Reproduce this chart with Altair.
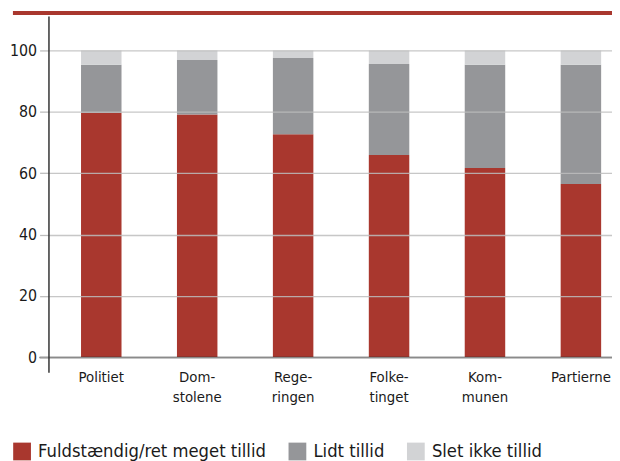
import altair as alt
import pandas as pd

categories = ["Politiet", "Dom-\nstolene", "Rege-\nringen", "Folke-\ntinget", "Kom-\nmunen", "Partierne"]
series = ["Fuldstændig/ret meget tillid", "Lidt tillid", "Slet ikke tillid"]
high = [79.7, 79.1, 72.7, 65.9, 61.7, 56.5]
little = [15.6, 17.8, 24.8, 29.7, 33.6, 38.8]
none_ = [4.7, 3.1, 2.5, 4.4, 4.7, 4.7]
colors = ["#a9372e", "#959699", "#d2d3d5"]
y_ticks = [0, 20, 40, 60, 80, 100]

rows = []
for i, c in enumerate(categories):
    for j, (s, vals) in enumerate(zip(series, [high, little, none_])):
        rows.append({"kat": c, "serie": s, "v": vals[i], "ord": j})
df = pd.DataFrame(rows)

FONT = "DejaVu Sans Condensed, Liberation Sans Narrow, sans-serif"
W, H = 571, 361

bars = alt.Chart(df).mark_bar().encode(
    x=alt.X("kat:N", sort=categories, title=None,
            scale=alt.Scale(range=[0, 593], paddingInner=0.578, paddingOuter=0.3395),
            axis=alt.Axis(domain=False, ticks=False, labelAngle=0, labelFontSize=15,
                          labelFont=FONT, labelColor="#1a1a1a", labelPadding=-3,
                          labelBaseline="top", labelLineHeight=21,
                          labelExpr="split(datum.value, '\\n')")),
    y=alt.Y("v:Q", stack="zero", title=None,
            scale=alt.Scale(domain=[-4.8, 111.25], nice=False, zero=False),
            axis=alt.Axis(values=y_ticks, grid=True, gridColor="#bdbdbd", gridWidth=1.3,
                          gridOpacity=0.85, zindex=1, tickSize=9, tickColor="#bdbdbd",
                          tickWidth=1.3, domainColor="#333333", domainWidth=1.5,
                          labelFontSize=16, labelFont=FONT, labelColor="#1a1a1a",
                          labelPadding=3)),
    color=alt.Color("serie:N", sort=series,
                    scale=alt.Scale(domain=series, range=colors),
                    legend=alt.Legend(title=None, orient="none", legendX=-36, legendY=432,
                                      direction="horizontal", symbolType="square",
                                      symbolSize=324, symbolStrokeWidth=0,
                                      labelFontSize=18.5, labelFont=FONT, labelColor="#1a1a1a",
                                      labelLimit=0, labelOffset=7, columnPadding=22, padding=0)),
    order=alt.Order("ord:Q", sort="ascending"),
)

zero_line = alt.Chart(pd.DataFrame({"y": [0]})).mark_rule(color="#333333", strokeWidth=1.5).encode(
    y="y:Q", x=alt.value(-9), x2=alt.value(W)
)

band = alt.Chart(pd.DataFrame({"a": [0]})).mark_rect(color="#a9372e").encode(
    x=alt.value(-36), x2=alt.value(W), y=alt.value(-5), y2=alt.value(-1)
)

chart = alt.layer(bars, zero_line, band).properties(
    width=W, height=H,
    autosize=alt.AutoSizeParams(type="none"),
    padding={"left": 41, "top": 5, "right": 0, "bottom": 87},
).configure_view(stroke=None)

chart.save("out.html", embed_options={"renderer": "svg", "actions": False})
